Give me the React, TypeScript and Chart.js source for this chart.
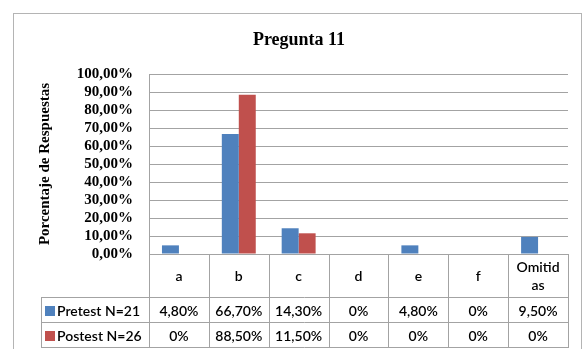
import React, { useEffect, useRef } from "react";
import { Chart, registerables } from "chart.js";

Chart.register(...registerables);

const categories = ["a", "b", "c", "d", "e", "f", "Omitidas"];
const pretestValues = [4.8, 66.7, 14.3, 0, 4.8, 0, 9.5];
const postestValues = [0, 88.5, 11.5, 0, 0, 0, 0];
const seriesNames = ["Pretest N=21", "Postest N=26"];
const seriesColors = ["#4F81BD", "#C0504D"];
const chartTitle = "Pregunta 11";
const yAxisTitle = "Porcentaje de Respuestas";

const SERIF = "'Liberation Serif', 'Times New Roman', serif";
const SANS = "Lato, 'Open Sans', sans-serif";
const LINE = "#a3a3a3";

const fmtAxis = (v: number) => v.toFixed(2).replace(".", ",") + "%";
const fmtCell = (v: number) => (v === 0 ? "0%" : v.toFixed(2).replace(".", ",") + "%");

// Break a label into lines that fit the cell width (character wrap, like Excel's data table)
function wrapText(ctx: CanvasRenderingContext2D, text: string, maxW: number): string[] {
  if (ctx.measureText(text).width <= maxW) return [text];
  const lines: string[] = [];
  let cur = "";
  for (const ch of text) {
    if (cur && ctx.measureText(cur + ch).width > maxW) {
      lines.push(cur);
      cur = ch;
    } else cur += ch;
  }
  if (cur) lines.push(cur);
  return lines;
}

// Draws the outer frame and the data table under the plot area
const dataTablePlugin = {
  id: "dataTable",
  afterDraw(chart: any) {
    const ctx: CanvasRenderingContext2D = chart.ctx;
    const area = chart.chartArea;
    const x = chart.scales.x;
    const n = categories.length;
    const cw = (area.right - area.left) / n;
    const headerTop = area.bottom;
    const headerH = 44;
    const rowH = 25;
    const rowTops = [headerTop + headerH, headerTop + headerH + rowH];
    const tableBottom = headerTop + headerH + rowH * 2;
    const legendLeft = 41;

    ctx.save();
    // outer chart frame
    ctx.strokeStyle = "#b4b4b4";
    ctx.lineWidth = 1;
    ctx.strokeRect(13.5, 13.5, chart.width - 15, chart.height + 10);

    ctx.strokeStyle = LINE;
    ctx.beginPath();
    for (let i = 0; i <= n; i++) {
      const px = Math.round(area.left + i * cw) + 0.5;
      ctx.moveTo(px, headerTop);
      ctx.lineTo(px, tableBottom);
    }
    for (const yy of [...rowTops, tableBottom]) {
      const py = Math.round(yy) - 0.5;
      ctx.moveTo(legendLeft, py);
      ctx.lineTo(area.right, py);
    }
    ctx.moveTo(legendLeft + 0.5, rowTops[0]);
    ctx.lineTo(legendLeft + 0.5, tableBottom);
    ctx.stroke();

    ctx.fillStyle = "#000";
    ctx.font = `600 14px ${SANS}`;
    ctx.textAlign = "center";
    ctx.textBaseline = "middle";
    categories.forEach((c, i) => {
      const cx = x.getPixelForValue(i);
      const lines = wrapText(ctx, c, cw - 14);
      const lh = 18;
      const y0 = headerTop + headerH / 2 - ((lines.length - 1) * lh) / 2;
      lines.forEach((l, k) => ctx.fillText(l, cx, y0 + k * lh));
    });

    const rows = [pretestValues, postestValues];
    rows.forEach((vals, r) => {
      const cy = rowTops[r] + rowH / 2 + 0.5;
      ctx.fillStyle = seriesColors[r];
      ctx.fillRect(45, cy - 5, 10, 10);
      ctx.fillStyle = "#000";
      ctx.textAlign = "left";
      ctx.fillText(seriesNames[r], 57, cy);
      ctx.textAlign = "center";
      vals.forEach((v, i) => ctx.fillText(fmtCell(v), x.getPixelForValue(i), cy));
    });
    ctx.restore();
  },
};

export default function App() {
  const canvasRef = useRef<HTMLCanvasElement | null>(null);

  useEffect(() => {
    let chart: Chart | null = null;
    let cancelled = false;
    const fontsReady = (document as any).fonts
      ? Promise.all([
          (document as any).fonts.load(`bold 15px ${SERIF}`),
          (document as any).fonts.load(`600 14px ${SANS}`),
        ]).catch(() => null)
      : Promise.resolve();
    fontsReady.then(() => {
      if (cancelled || !canvasRef.current) return;
      chart = new Chart(canvasRef.current, {
        type: "bar",
        data: {
          labels: categories,
          datasets: [
            {
              label: seriesNames[0],
              data: pretestValues,
              backgroundColor: seriesColors[0],
              categoryPercentage: 0.567,
              barPercentage: 1,
            },
            {
              label: seriesNames[1],
              data: postestValues,
              backgroundColor: seriesColors[1],
              categoryPercentage: 0.567,
              barPercentage: 1,
            },
          ],
        },
        options: {
          responsive: false,
          animation: false,
          layout: { padding: { left: 30, right: 15, top: 0, bottom: 0 } },
          plugins: {
            legend: { display: false },
            tooltip: { enabled: false },
            title: {
              display: true,
              text: chartTitle,
              color: "#000",
              font: { family: SERIF, size: 18, weight: "bold" },
              padding: { top: 30, bottom: 22.4 },
            },
          },
          scales: {
            x: {
              grid: { display: false },
              border: { display: false },
              ticks: { display: false },
              afterFit(scale: any) {
                scale.height = 95;
              },
            },
            y: {
              min: 0,
              max: 100,
              ticks: {
                stepSize: 10,
                autoSkip: false,
                padding: 16,
                color: "#000",
                font: { family: SERIF, size: 15, weight: "bold" },
                callback: (v: any) => fmtAxis(Number(v)),
              },
              grid: { color: LINE, drawTicks: false },
              border: { display: true, color: LINE },
              title: {
                display: true,
                text: yAxisTitle,
                color: "#000",
                font: { family: SERIF, size: 15, weight: "bold" },
                padding: { top: 6, bottom: 0 },
              },
              afterFit(scale: any) {
                scale.width = 119;
              },
            },
          },
        },
        plugins: [dataTablePlugin],
      });
    });
    return () => {
      cancelled = true;
      if (chart) chart.destroy();
    };
  }, []);

  return (
    <div style={{ position: "absolute", left: 0, top: 0, width: 583, height: 349, background: "#fff" }}>
      <canvas ref={canvasRef} width={583} height={349} />
    </div>
  );
}
